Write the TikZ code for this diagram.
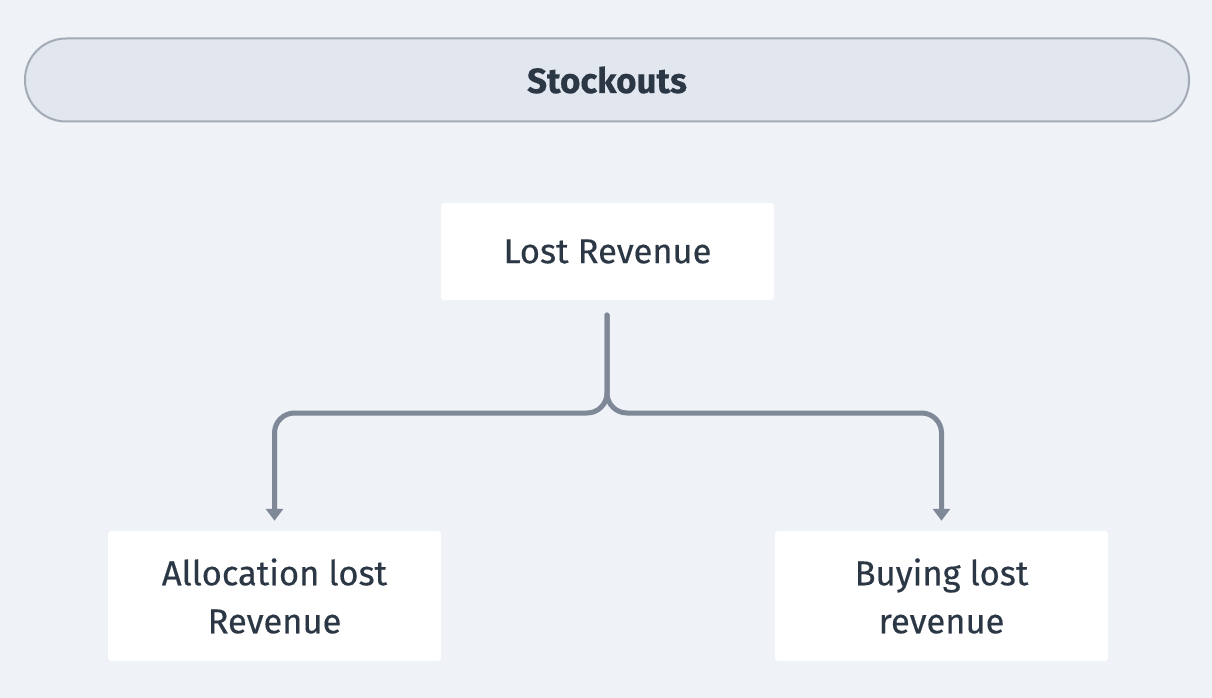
\documentclass[tikz,border=0pt]{standalone}
\usepackage{fontspec}
\setmainfont{Fira Sans}[FakeBold=0.4]
\usetikzlibrary{arrows.meta}
\definecolor{bgc}{HTML}{EFF2F6}
\definecolor{pillfill}{HTML}{E2E6EE}
\definecolor{pilldraw}{HTML}{A2ABB6}
\definecolor{linec}{HTML}{7F8896}
\definecolor{txt}{HTML}{2B3744}
\begin{document}
\begin{tikzpicture}[x=1pt,y=-1pt,
  card/.style={fill=white,rounded corners=3pt,draw=none,text=txt,font=\fontsize{34.5}{48}\selectfont,align=center,inner sep=0pt},
  conn/.style={draw=linec,line width=5pt,line cap=round,rounded corners=20pt,-{Triangle[width=17pt,length=12pt]}}]
\fill[bgc] (0,0) rectangle (1212,698);
\useasboundingbox (0,0) rectangle (1212,698);
\node[draw=pilldraw,line width=2pt,fill=pillfill,rounded corners=41pt,minimum width=1164pt,minimum height=83pt,inner sep=0pt,text=txt,font=\fontsize{35}{36}\selectfont\bfseries] (title) at (607,80) {Stockouts};
\node[card,minimum width=333pt,minimum height=97pt] (lr) at (607.5,251.5) {Lost Revenue};
\node[card,minimum width=333pt,minimum height=130pt] (alr) at (274.5,596) {Allocation lost\\Revenue};
\node[card,minimum width=333pt,minimum height=130pt] (blr) at (941.5,596) {Buying lost\\revenue};
\coordinate (s) at (607,315);
\coordinate (j) at (607,413);
\draw[conn,shorten >=10pt] (s) -- (j) -| (alr.north);
\draw[conn,shorten >=10pt] (s) -- (j) -| (blr.north);
\end{tikzpicture}
\end{document}
